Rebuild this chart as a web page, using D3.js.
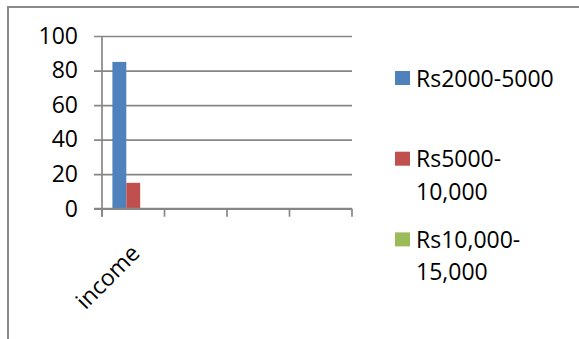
<!DOCTYPE html>
<html>
<head>
<meta charset="utf-8">
<script src="https://cdn.jsdelivr.net/npm/d3@7"></script>
<style>
  html, body { margin: 0; padding: 0; background: #fff; }
  svg { display: block; font-family: "Open Sans", sans-serif; }
</style>
</head>
<body>
<script>
// data
const categories = ['income', '', '', '']
const seriesNames = ['Rs2000-5000', 'Rs5000-10,000', 'Rs10,000-15,000']
const seriesValues = [
  [85, null, null, null],
  [15, null, null, null],
  [0, null, null, null],
]
const legendLines = [['Rs2000-5000'], ['Rs5000-', '10,000'], ['Rs10,000-', '15,000']]
const yTicks = [0, 20, 40, 60, 80, 100]
const colors = ['#4F81BD', '#C0504D', '#9BBB59']

// layout
const width = 579
const height = 339
const plot = { left: 102, right: 352, top: 36, bottom: 208.7 }
const gridColor = '#868686'
const fontSize = 23

const svg = d3.select('body')
  .append('svg')
  .attr('width', width)
  .attr('height', height)

// outer frame (cropped on the right and bottom)
svg.append('rect')
  .attr('x', 8).attr('y', 7)
  .attr('width', 700).attr('height', 500)
  .attr('fill', 'none')
  .attr('stroke', '#8a8a8a')
  .attr('stroke-width', 2)

// scales
const xScale = d3.scaleBand()
  .domain(d3.range(categories.length))
  .range([plot.left, plot.right])
const yScale = d3.scaleLinear()
  .domain([0, 100])
  .range([plot.bottom, plot.top])

// gridlines + y ticks
const yAxis = d3.axisLeft(yScale)
  .tickValues(yTicks)
  .tickSize(-(plot.right - plot.left))
  .tickPadding(24)
  .tickFormat(d3.format('d'))

const gy = svg.append('g')
  .attr('transform', `translate(${plot.left},0)`)
  .call(yAxis)
gy.select('.domain').remove()
gy.selectAll('line')
  .attr('x1', -8)
  .attr('stroke', gridColor)
  .attr('stroke-width', 1.7)
gy.selectAll('text')
  .attr('font-size', fontSize)
  .attr('font-family', '"Open Sans", sans-serif')
  .attr('fill', '#000')

// vertical axis line
svg.append('line')
  .attr('x1', plot.left).attr('x2', plot.left)
  .attr('y1', plot.top).attr('y2', plot.bottom + 8)
  .attr('stroke', gridColor)
  .attr('stroke-width', 1.7)

// x ticks on band boundaries
const boundaries = d3.range(categories.length + 1)
  .map(i => i < categories.length ? xScale(i) : xScale(i - 1) + xScale.bandwidth())
svg.append('g')
  .selectAll('line')
  .data(boundaries)
  .enter()
  .append('line')
  .attr('x1', d => d).attr('x2', d => d)
  .attr('y1', plot.bottom).attr('y2', plot.bottom + 8)
  .attr('stroke', gridColor)
  .attr('stroke-width', 1.7)

// bars
const inner = d3.scaleBand()
  .domain(d3.range(seriesNames.length))
  .range([0, xScale.bandwidth()])
  .paddingOuter(0.75)

seriesValues.forEach((vals, s) => {
  svg.append('g')
    .selectAll('rect')
    .data(vals.map((v, i) => ({ v, i })).filter(d => d.v != null))
    .enter()
    .append('rect')
    .attr('x', d => xScale(d.i) + inner(s))
    .attr('width', inner.bandwidth())
    .attr('y', d => yScale(d.v))
    .attr('height', d => yScale(0) - yScale(d.v))
    .attr('fill', colors[s])
})

// x-axis line drawn over bars' base
svg.append('line')
  .attr('x1', plot.left - 8).attr('x2', plot.right)
  .attr('y1', plot.bottom).attr('y2', plot.bottom)
  .attr('stroke', gridColor)
  .attr('stroke-width', 1.7)

// category labels, rotated
svg.append('g')
  .selectAll('text')
  .data(categories)
  .enter()
  .append('text')
  .attr('transform', (d, i) => `translate(${xScale(i) + xScale.bandwidth() / 2 + 8},${plot.bottom + 46}) rotate(-45)`)
  .attr('text-anchor', 'end')
  .attr('font-size', fontSize)
  .text(d => d)

// legend
const legend = svg.append('g')
  .attr('transform', 'translate(395,71)')

const rows = legend.selectAll('g')
  .data(seriesNames)
  .enter()
  .append('g')
  .attr('transform', (d, i) => `translate(0,${i * 80.7})`)

rows.append('rect')
  .attr('width', 15)
  .attr('height', 14)
  .attr('fill', (d, i) => colors[i])

rows.append('text')
  .attr('x', 21)
  .attr('y', 15.5)
  .attr('font-size', fontSize)
  .selectAll('tspan')
  .data((d, i) => legendLines[i])
  .enter()
  .append('tspan')
  .attr('x', 21)
  .attr('dy', (d, j) => j === 0 ? 0 : 32.5)
  .text(d => d)
</script>
</body>
</html>
